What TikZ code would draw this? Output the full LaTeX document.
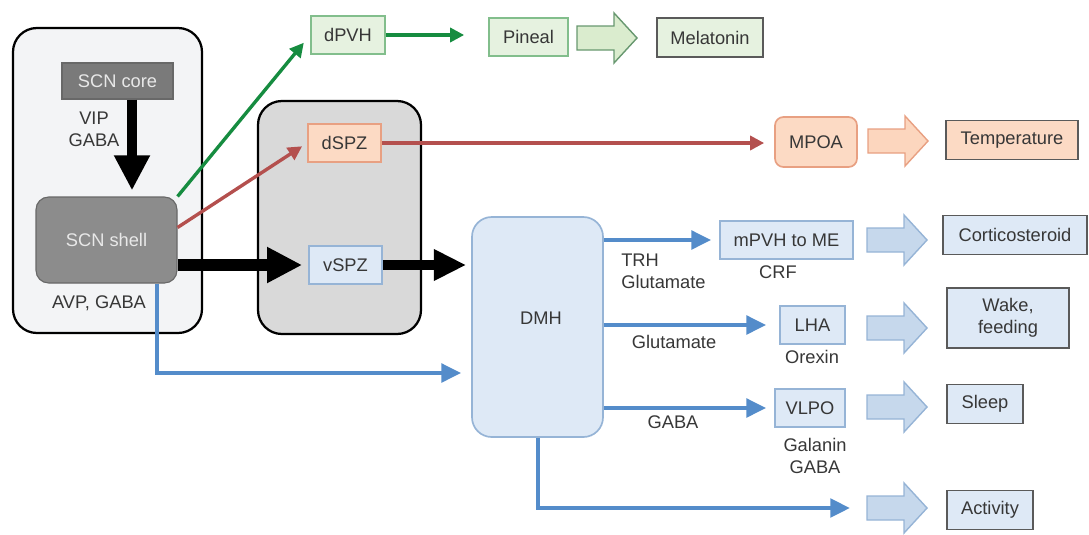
\documentclass[tikz,border=0pt]{standalone}
\usepackage{fontspec}
\setmainfont{Liberation Sans}
\usetikzlibrary{arrows.meta, positioning, calc}

\newdimen\pxu \pxu=0.025cm
\newcommand{\lbl}{\fontsize{13}{15.6}\selectfont}

\definecolor{txtgray}{RGB}{55,55,55}
\definecolor{outerfill}{RGB}{243,244,246}
\definecolor{midfill}{RGB}{217,217,217}
\definecolor{corefill}{RGB}{122,122,122}
\definecolor{shellfill}{RGB}{140,140,140}
\definecolor{shelltxt}{RGB}{232,232,232}
\definecolor{grnline}{RGB}{22,140,64}
\definecolor{grnfill}{RGB}{230,242,224}
\definecolor{grnborder}{RGB}{130,190,140}
\definecolor{grnarrow}{RGB}{218,236,206}
\definecolor{redline}{RGB}{180,80,78}
\definecolor{peachfill}{RGB}{252,218,196}
\definecolor{peachborder}{RGB}{232,160,130}
\definecolor{peacharrow}{RGB}{252,214,190}
\definecolor{bluline}{RGB}{84,140,202}
\definecolor{blufill}{RGB}{222,233,246}
\definecolor{bluborder}{RGB}{150,180,214}
\definecolor{bluarrow}{RGB}{198,216,236}
\definecolor{outborder}{RGB}{90,90,90}

\tikzset{
  bigarrow/.pic={
    \draw[pic actions] (0,-12) -- (37,-12) -- (37,-25) -- (60,0) -- (37,25) -- (37,12) -- (0,12) -- cycle;
    \coordinate (-tail) at (0,0);
  }
}

\begin{document}
\begin{tikzpicture}[x=0.025cm, y=-0.025cm,
    every node/.style={font=\lbl, text=txtgray, inner sep=0pt},
    bigbox/.style={draw=black, line width=1.6pt, rounded corners=17pt},
    graybox/.style={draw=corefill!85!black, line width=0.8pt, text=shelltxt},
    greenbox/.style={draw=grnborder, fill=grnfill, line width=1.2pt, minimum height=38\pxu},
    peachbox/.style={draw=peachborder, fill=peachfill, line width=1.2pt, minimum height=38\pxu},
    bluebox/.style={draw=bluborder, fill=blufill, line width=1.2pt, minimum height=38\pxu},
    outbox/.style={draw=outborder, line width=1.4pt, minimum height=39\pxu},
    greenline/.style={draw=grnline, line width=2.4pt, -{Triangle[length=10pt,width=10pt]}},
    redconn/.style={draw=redline, line width=2.4pt, -{Triangle[length=10pt,width=10pt]}},
    blueconn/.style={draw=bluline, line width=3pt, -{Triangle[length=14pt,width=13pt]}},
    fatarrow/.style={draw=black, line width=7.5pt, -{Triangle[length=25pt,width=24pt]}},
    greenbig/.style={draw=grnborder!80!black, fill=grnarrow, line width=1pt},
    peachbig/.style={draw=peachborder, fill=peacharrow, line width=1pt},
    bluebig/.style={draw=bluborder, fill=bluarrow, line width=1pt}]
  \useasboundingbox (0,0) rectangle (1089,534);

  % background groups
  \node[bigbox, fill=outerfill, minimum width=189\pxu, minimum height=305\pxu] (scn) at (107.5,180.5) {};
  \node[bigbox, fill=midfill, minimum width=163\pxu, minimum height=233\pxu] (spz) at (339.5,217.5) {};

  % SCN
  \node[graybox, fill=corefill, minimum width=111\pxu, minimum height=36\pxu] (core) at (117.5,81) {SCN core};
  \node[graybox, fill=shellfill, rounded corners=9pt, minimum width=141\pxu, minimum height=86\pxu] (shell) at (106.5,240) {SCN shell};
  \node[align=center] (vip) at (94,129) {VIP\\GABA};
  \node (avp) at (99,303) {AVP, GABA};

  % targets
  \node[greenbox, minimum width=74\pxu] (dpvh) at (348,35) {dPVH};
  \node[greenbox, minimum width=79\pxu] (pineal) at (528.5,37) {Pineal};
  \node[outbox, fill=grnfill, minimum width=106\pxu] (melatonin) at (710,37.5) {Melatonin};
  \node[peachbox, minimum width=73\pxu] (dspz) at (344.5,143) {dSPZ};
  \node[peachbox, rounded corners=6pt, minimum width=82\pxu, minimum height=50\pxu] (mpoa) at (816,142) {MPOA};
  \node[outbox, fill=peachfill, minimum width=132\pxu] (temp) at (1012,140) {Temperature};
  \node[bluebox, minimum width=73\pxu] (vspz) at (345.5,265) {vSPZ};
  \node[bluebox, rounded corners=14pt, minimum width=131\pxu, minimum height=220\pxu] (dmh) at (537.5,327) {};
  \node (dmhlbl) at (541,318) {DMH};
  \node[bluebox, minimum width=133\pxu] (mpvh) at (786.5,240) {mPVH to ME};
  \node[bluebox, minimum width=65\pxu] (lha) at (812.5,325) {LHA};
  \node[bluebox, minimum width=70\pxu] (vlpo) at (810,408) {VLPO};
  \node[outbox, fill=blufill, minimum width=144\pxu] (cortico) at (1015,235) {Corticosteroid};
  \node[outbox, fill=blufill, align=center, minimum width=122\pxu, minimum height=60\pxu] (wake) at (1008,318) {Wake,\\feeding};
  \node[outbox, fill=blufill, minimum width=76\pxu] (sleep) at (985,404) {Sleep};
  \node[outbox, fill=blufill, minimum width=86\pxu] (activity) at (990,510) {Activity};

  % transmitter labels
  \node[anchor=west, align=left] (trh) at (621,271) {TRH\\Glutamate};
  \node (crf) at (778,272) {CRF};
  \node (glu) at (674,342) {Glutamate};
  \node (orexin) at (812,357) {Orexin};
  \node (gaba) at (673,422) {GABA};
  \node[align=center] (galanin) at (815,456) {Galanin\\GABA};

  % block arrows
  \pic[greenbig] (ba0) at (577,38) {bigarrow};
  \pic[peachbig] (ba1) at (868,141) {bigarrow};
  \pic[bluebig] (ba2) at (867,240) {bigarrow};
  \pic[bluebig] (ba3) at (867,328) {bigarrow};
  \pic[bluebig] (ba4) at (867,407) {bigarrow};
  \pic[bluebig] (ba5) at (867,508) {bigarrow};

  % connectors
  \draw[fatarrow] ($(core.south)+(14.5,0)$) -- ($(shell.north)+(25.5,-6)$);
  \draw[greenline, shorten >=10\pxu] (shell.north east) -- (dpvh.west);
  \draw[greenline, shorten >=24\pxu] (dpvh.east) -- (dpvh.east -| pineal.west);
  \draw[redconn, shorten >=6\pxu] (shell.10) -- (dspz.west);
  \draw[redconn, shorten >=10\pxu] (dspz.east) -- (dspz.east -| mpoa.west);
  \draw[fatarrow, line width=8.5pt] (shell.east |- vspz.west) -- ([xshift=-6\pxu]vspz.west);
  \draw[fatarrow, -{Triangle[length=23pt,width=21pt]}] (vspz.east) -- ([xshift=-5\pxu]dmh.west |- vspz.east);
  \draw[blueconn, shorten >=10\pxu] ($(shell.south)+(50.5,0)$) |- ($(dmh.west)+(0,46)$);
  \draw[blueconn, shorten >=8\pxu] (dmh.east |- mpvh.west) -- (mpvh.west);
  \draw[blueconn, shorten >=13\pxu] (dmh.east |- lha.west) -- (lha.west);
  \draw[blueconn, shorten >=8\pxu] (dmh.east |- vlpo.west) -- (vlpo.west);
  \draw[blueconn, shorten >=17\pxu] ($(dmh.south)+(0.5,0)$) |- (ba5-tail);
\end{tikzpicture}
\end{document}
